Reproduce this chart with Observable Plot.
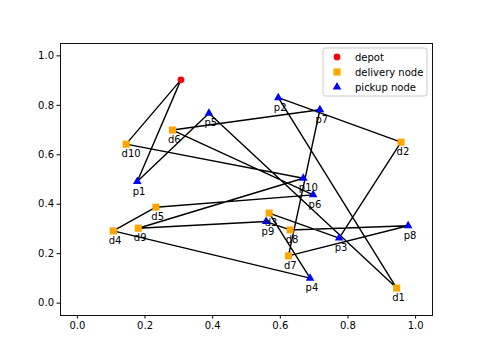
<!DOCTYPE html>
<html><head><meta charset="utf-8">
<script src="https://cdn.jsdelivr.net/npm/d3@7"></script>
<script src="https://cdn.jsdelivr.net/npm/@observablehq/plot@0.6"></script>
<style>body{margin:0;background:#fff;}</style>
</head><body><div id="chart"></div>
<script>
const depotX = 0.306, depotY = 0.903;
const pickupNames = ["p1","p2","p3","p4","p5","p6","p7","p8","p9","p10"];
const pickupX = [0.177,0.594,0.774,0.688,0.389,0.697,0.717,0.978,0.558,0.668];
const pickupY = [0.492,0.831,0.263,0.101,0.768,0.438,0.782,0.313,0.330,0.505];
const deliveryNames = ["d1","d2","d3","d4","d5","d6","d7","d8","d9","d10"];
const deliveryX = [0.944,0.957,0.567,0.106,0.232,0.281,0.624,0.629,0.180,0.144];
const deliveryY = [0.061,0.651,0.364,0.292,0.388,0.700,0.191,0.296,0.303,0.643];
const routeOrder = ["depot","p1","p5","d1","p2","d2","p3","d3","p4","d4","d5","p6","d6","p7","d7","p8","d8","p9","d9","p10","d10","depot"];
const axisTicks = [0,0.2,0.4,0.6,0.8,1.0];
const legendLabels = ["depot","delivery node","pickup node"];

const depot = [{name:"depot", x:depotX, y:depotY}];
const pickups = pickupNames.map((n,i)=>({name:n, x:pickupX[i], y:pickupY[i]}));
const deliveries = deliveryNames.map((n,i)=>({name:n, x:deliveryX[i], y:deliveryY[i]}));
const nodeMap = new Map([...depot, ...pickups, ...deliveries].map(d=>[d.name,d]));
const route = routeOrder.map(n=>nodeMap.get(n));
const labeled = [...deliveries, ...pickups];

const R_DEPOT = 3.4, R_DEL = 4, R_PICK = 3.2;

const chart = Plot.plot({
  width: 480, height: 360,
  marginLeft: 60, marginRight: 48, marginTop: 43, marginBottom: 45,
  style: {fontFamily: "DejaVu Sans", fontSize: "10px", color: "black", background: "white"},
  x: {domain: [-0.05, 1.05]},
  y: {domain: [-0.05, 1.05]},
  marks: [
    Plot.frame({stroke: "#111"}),
    Plot.axisX({ticks: axisTicks, tickFormat: ".1f", tickSize: 3.5, tickPadding: 3, label: null, fontSize: 10}),
    Plot.axisY({ticks: axisTicks, tickFormat: ".1f", tickSize: 3.5, tickPadding: 3, label: null, fontSize: 10}),
    Plot.line(route, {x: "x", y: "y", stroke: "black", strokeWidth: 1.4}),
    Plot.dot(depot, {x: "x", y: "y", symbol: "circle", fill: "red", r: R_DEPOT}),
    Plot.dot(deliveries, {x: "x", y: "y", symbol: "square", fill: "orange", r: R_DEL}),
    Plot.dot(pickups, {x: "x", y: "y", symbol: "triangle", fill: "blue", r: R_PICK}),
    Plot.text(labeled, {x: "x", y: "y", text: "name", textAnchor: "start", lineAnchor: "top", dx: -4.5, dy: 6, fontSize: 10, fill: "black"})
  ]
});
document.getElementById("chart").appendChild(chart);

// legend inside the axes (upper right)
const svg = d3.select(chart);
const lg = svg.append("g").attr("font-family","DejaVu Sans").attr("font-size",10).attr("text-anchor","start");
lg.append("rect").attr("x",323).attr("y",48).attr("width",104).attr("height",48)
  .attr("rx",2.5).attr("fill","white").attr("fill-opacity",0.8).attr("stroke","#ccc");
const symbols = [
  {sym: d3.symbolCircle, size: Math.PI*R_DEPOT*R_DEPOT, fill: "red"},
  {sym: d3.symbolSquare, size: Math.PI*R_DEL*R_DEL, fill: "orange"},
  {sym: d3.symbolTriangle, size: Math.PI*R_PICK*R_PICK, fill: "blue"}
];
legendLabels.forEach((t,i)=>{
  const cy = 57 + i*15;
  lg.append("path").attr("d", d3.symbol(symbols[i].sym, symbols[i].size)())
    .attr("transform", `translate(337,${cy})`).attr("fill", symbols[i].fill);
  lg.append("text").attr("x",355).attr("y",cy).attr("dy","0.35em").attr("fill","black")
    .attr("text-anchor","start").text(t);
});
</script>
</body></html>
